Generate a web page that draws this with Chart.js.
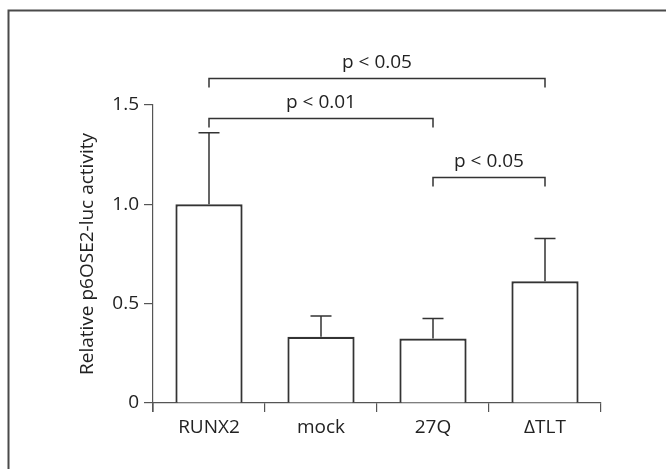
<!DOCTYPE html>
<html>
<head>
<meta charset="utf-8">
<script src="https://cdn.jsdelivr.net/npm/chart.js@4"></script>
<style>
  html, body { margin: 0; padding: 0; background: #fff; }
  #wrap { width: 666px; height: 469px; position: relative; }
</style>
</head>
<body>
<div id="wrap"><canvas id="chart" width="666" height="469"></canvas></div>
<script>
(() => {
    'use strict'

    const categories = ['RUNX2', 'mock', '27Q', '\u0394TLT']
    const values = [1.0, 0.333, 0.325, 0.613]
    const errors = [0.36, 0.105, 0.10, 0.215]
    const yTicks = [0, 0.5, 1.0, 1.5]

    // significance brackets: category index from/to, height (data units), label
    const bracketFrom = [0, 0, 2]
    const bracketTo = [3, 2, 3]
    const bracketLevel = [1.638, 1.436, 1.14]
    const bracketLabels = ['p < 0.05', 'p < 0.01', 'p < 0.05']

    const FONT = "'Open Sans', 'Noto Sans', sans-serif"
    const INK = '#333'

    const framePlugin = {
        id: 'frame',
        beforeDraw(chart) {
            const ctx = chart.ctx
            ctx.save()
            ctx.strokeStyle = '#4a4a4a'
            ctx.lineWidth = 2
            ctx.beginPath()
            ctx.moveTo(8.5, 469)
            ctx.lineTo(8.5, 10.5)
            ctx.lineTo(666, 10.5)
            ctx.stroke()
            ctx.restore()
        },
    }

    const axisExtPlugin = {
        id: 'axisExt',
        afterDraw(chart) {
            // y axis line continues down to the x tick length
            const ctx = chart.ctx
            const area = chart.chartArea
            ctx.save()
            ctx.strokeStyle = '#555'
            ctx.lineWidth = 1.2
            ctx.beginPath()
            ctx.moveTo(area.left, area.bottom)
            ctx.lineTo(area.left, area.bottom + 9)
            ctx.stroke()
            ctx.restore()
        },
    }

    const errorBarPlugin = {
        id: 'errorBars',
        afterDatasetsDraw(chart) {
            const ctx = chart.ctx
            const meta = chart.getDatasetMeta(0)
            const y = chart.scales.y
            ctx.save()
            ctx.strokeStyle = INK
            ctx.lineWidth = 1.5
            meta.data.forEach((bar, i) => {
                const x = bar.x
                const top = y.getPixelForValue(values[i] + errors[i])
                ctx.beginPath()
                ctx.moveTo(x, bar.y)
                ctx.lineTo(x, top)
                ctx.moveTo(x - 10.5, top)
                ctx.lineTo(x + 10.5, top)
                ctx.stroke()
            })
            ctx.restore()
        },
    }

    const bracketPlugin = {
        id: 'brackets',
        afterDraw(chart) {
            const ctx = chart.ctx
            const xs = chart.scales.x
            const ys = chart.scales.y
            ctx.save()
            ctx.strokeStyle = INK
            ctx.lineWidth = 1.5
            ctx.fillStyle = '#222'
            ctx.font = '19px ' + FONT
            ctx.textAlign = 'center'
            ctx.textBaseline = 'middle'
            bracketLabels.forEach((label, i) => {
                const x1 = xs.getPixelForValue(bracketFrom[i])
                const x2 = xs.getPixelForValue(bracketTo[i])
                const yy = Math.round(ys.getPixelForValue(bracketLevel[i])) + 0.5
                ctx.beginPath()
                ctx.moveTo(x1, yy + 9)
                ctx.lineTo(x1, yy)
                ctx.lineTo(x2, yy)
                ctx.lineTo(x2, yy + 9)
                ctx.stroke()
                ctx.fillText(label, (x1 + x2) / 2, yy - 16)
            })
            ctx.restore()
        },
    }

    new Chart(document.getElementById('chart'), {
        type: 'bar',
        data: {
            labels: categories,
            datasets: [
                {
                    data: values,
                    backgroundColor: '#fff',
                    borderColor: INK,
                    borderWidth: 2.2,
                    barPercentage: 0.6,
                    categoryPercentage: 1,
                },
            ],
        },
        plugins: [framePlugin, errorBarPlugin, bracketPlugin, axisExtPlugin],
        options: {
            responsive: false,
            animation: false,
            events: [],
            layout: {
                padding: { left: 0, top: 105, right: 65, bottom: 0 },
            },
            plugins: {
                legend: { display: false },
                tooltip: { enabled: false },
            },
            scales: {
                x: {
                    afterFit: (s) => { s.height = 66 },
                    grid: {
                        offset: true,
                        drawOnChartArea: false,
                        drawTicks: true,
                        tickLength: 9,
                        color: '#555',
                        lineWidth: 1.2,
                    },
                    border: { display: true, color: '#555', width: 1.2 },
                    ticks: {
                        color: '#222',
                        padding: 4,
                        font: { family: FONT, size: 19 },
                    },
                },
                y: {
                    min: 0,
                    max: 1.5,
                    afterFit: (s) => { s.width = 153 },
                    afterBuildTicks: (s) => { s.ticks = yTicks.map(v => ({ value: v })) },
                    grid: {
                        drawOnChartArea: false,
                        drawTicks: true,
                        tickLength: 9,
                        color: '#555',
                        lineWidth: 1.2,
                    },
                    border: { display: true, color: '#555', width: 1.2 },
                    ticks: {
                        color: '#222',
                        padding: 5,
                        font: { family: FONT, size: 19 },
                        callback: (v) => v === 0 ? '0' : v.toFixed(1),
                    },
                    title: {
                        display: true,
                        text: 'Relative p6OSE2-luc activity',
                        color: '#222',
                        font: { family: FONT, size: 19 },
                        padding: { top: 76, bottom: 0 },
                    },
                },
            },
        },
    })
})()
</script>
</body>
</html>
